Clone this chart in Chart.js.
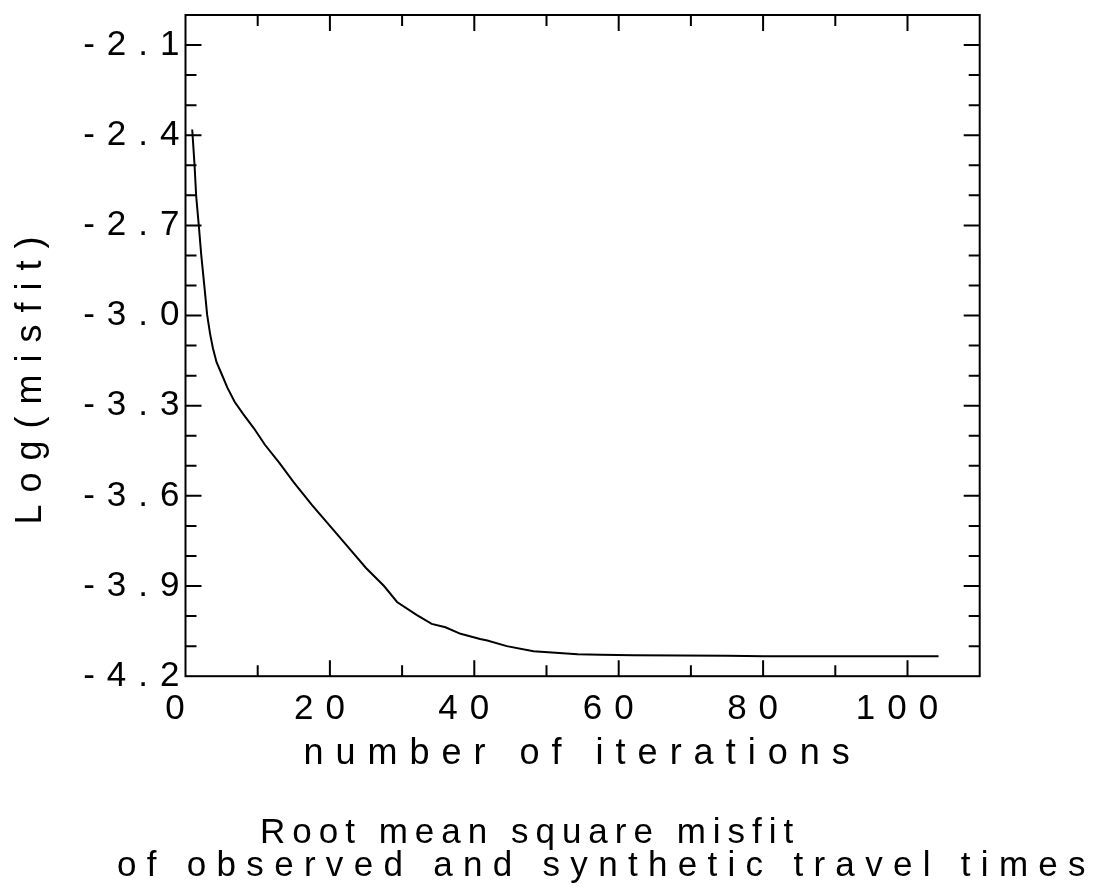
<!DOCTYPE html>
<html><head><meta charset="utf-8">
<script src="https://cdn.jsdelivr.net/npm/chart.js@4/dist/chart.umd.min.js"></script>
<style>html,body{margin:0;padding:0;background:#fff}canvas{display:block}</style>
</head><body>
<canvas id="c" width="1106" height="891"></canvas>
<script>
const iterations = [0.93,1.25,1.48,1.85,2.18,2.64,3.0,3.4,3.8,4.3,4.96,5.8,6.8,8,9.5,11,13,15,17.5,20,22.5,25,27.5,29.3,32,34.1,36,38.1,40.8,41.8,44.5,48.2,54.3,57.5,62,68.6,75,80.1,90,104.3];
const logMisfit = [-2.381,-2.498,-2.603,-2.703,-2.798,-2.909,-2.998,-3.06,-3.109,-3.155,-3.192,-3.24,-3.287,-3.328,-3.376,-3.43,-3.49,-3.555,-3.63,-3.70,-3.77,-3.84,-3.90,-3.953,-3.996,-4.026,-4.037,-4.059,-4.076,-4.081,-4.10,-4.117,-4.127,-4.129,-4.130,-4.131,-4.132,-4.134,-4.134,-4.134];
const xLabelValues = [0,20,40,60,80,100];
const yLabelValues = [-2.1,-2.4,-2.7,-3.0,-3.3,-3.6,-3.9,-4.2];
const xTitle = 'number of iterations';
const yTitle = 'Log(misfit)';
const captionLines = ['Root mean square misfit', 'of observed and synthetic travel times'];

const FONT = '"Liberation Sans", Arial, Helvetica, sans-serif';
const SPACING = '12px';

const spacingPlugin = {
  id: 'spacing',
  beforeUpdate(chart) { chart.ctx.letterSpacing = SPACING; },
  beforeLayout(chart) { chart.ctx.letterSpacing = SPACING; },
  beforeDraw(chart) { chart.ctx.letterSpacing = SPACING; }
};

const framePlugin = {
  id: 'frame',
  afterDatasetsDraw(chart) {
    const ctx = chart.ctx, ca = chart.chartArea;
    const xs = chart.scales.x, ys = chart.scales.y;
    ctx.save();
    ctx.strokeStyle = '#000';
    ctx.lineWidth = 2;
    ctx.strokeRect(ca.left, ca.top, ca.right - ca.left, ca.bottom - ca.top);
    ctx.beginPath();
    xs.ticks.forEach(t => {
      const px = xs.getPixelForValue(t.value);
      if (px <= ca.left + 1 || px >= ca.right - 1) return;
      const len = xLabelValues.includes(t.value) ? 16 : 11;
      ctx.moveTo(px, ca.bottom); ctx.lineTo(px, ca.bottom - len);
      ctx.moveTo(px, ca.top); ctx.lineTo(px, ca.top + len);
    });
    ys.ticks.forEach(t => {
      const py = ys.getPixelForValue(t.value);
      if (py <= ca.top + 1 || py >= ca.bottom - 1) return;
      const major = yLabelValues.some(v => Math.abs(v - t.value) < 1e-6);
      const len = major ? 16 : 11;
      ctx.moveTo(ca.left, py); ctx.lineTo(ca.left + len, py);
      ctx.moveTo(ca.right, py); ctx.lineTo(ca.right - len, py);
    });
    ctx.stroke();
    ctx.restore();
  },
  afterDraw(chart) {
    const ctx = chart.ctx;
    ctx.save();
    ctx.fillStyle = '#000';
    ctx.textAlign = 'left';
    ctx.textBaseline = 'alphabetic';
    ctx.font = '36px ' + FONT;
    ctx.letterSpacing = '12px';
    ctx.save();
    ctx.translate(41, 522);
    ctx.rotate(-Math.PI / 2);
    ctx.fillText(yTitle, -2.6, 0);
    ctx.restore();
    ctx.font = '35px ' + FONT;
    ctx.letterSpacing = '7px';
    ctx.fillText(captionLines[0], 260, 843);
    ctx.letterSpacing = '10.3px';
    ctx.fillText(captionLines[1], 117, 876);
    ctx.restore();
  }
};

new Chart(document.getElementById('c'), {
  type: 'line',
  data: {
    datasets: [{
      data: iterations.map((x, i) => ({ x: x, y: logMisfit[i] })),
      borderColor: '#000',
      borderWidth: 2,
      pointRadius: 0,
      tension: 0,
      fill: false
    }]
  },
  options: {
    responsive: false,
    animation: false,
    devicePixelRatio: 1,
    layout: { padding: { left: 0, top: 14.3, right: 126.3, bottom: 891 - 676.2 - 99 } },
    plugins: { legend: { display: false }, tooltip: { enabled: false }, title: { display: false } },
    scales: {
      x: {
        type: 'linear', min: 0, max: 110,
        grid: { display: false, drawTicks: false },
        border: { display: false },
        ticks: {
          stepSize: 10, autoSkip: false, maxRotation: 0, padding: 11.7, labelOffset: -4.5,
          color: '#000', font: { family: FONT, size: 35 },
          callback: v => xLabelValues.includes(v) ? String(v) : ''
        },
        title: { display: true, text: xTitle, color: '#000', font: { family: FONT, size: 36 }, padding: { top: 0, bottom: 0 } },
        afterFit: s => { s.height = 99; }
      },
      y: {
        type: 'linear', min: -4.2, max: -2.0,
        grid: { display: false, drawTicks: false },
        border: { display: false },
        ticks: {
          stepSize: 0.1, autoSkip: false, padding: -6,
          color: '#000', font: { family: FONT, size: 35 },
          callback: v => yLabelValues.some(l => Math.abs(l - v) < 1e-6) ? v.toFixed(1) : ''
        },
        afterFit: s => { s.width = 185.5; }
      }
    }
  },
  plugins: [spacingPlugin, framePlugin]
});
</script>
</body></html>
